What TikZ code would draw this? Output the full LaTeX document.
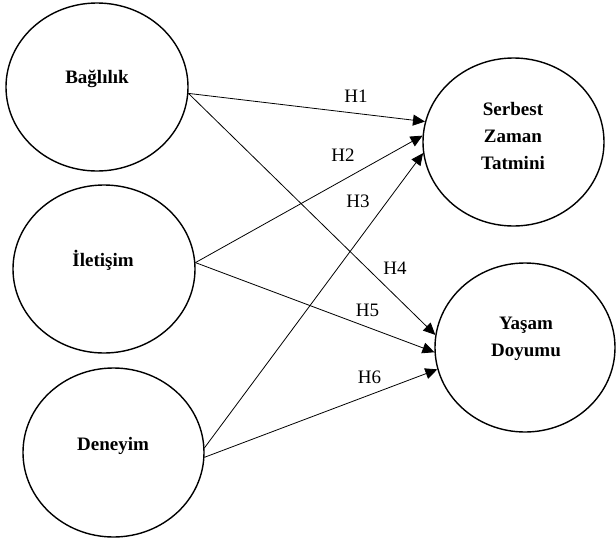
\documentclass[tikz,border=0pt]{standalone}
\usepackage{fontspec}
\setmainfont{Liberation Serif}
\usetikzlibrary{shapes.geometric,arrows.meta}
\begin{document}
\begin{tikzpicture}[x=1pt,y=-1pt,
  construct/.style={ellipse,draw=black,line width=1.4pt,inner sep=0pt},
  cname/.style={font=\fontsize{19}{27}\selectfont\bfseries,align=center,inner sep=0pt},
  hyp/.style={font=\fontsize{19}{22}\selectfont,inner sep=0pt},
  path/.style={draw=black,line width=0.8pt,-{Triangle[length=12pt,width=11pt]}}]
\useasboundingbox[fill=white] (0,0) rectangle (616,541);
% constructs
\node[construct,minimum width=182pt,minimum height=168pt] (b) at (97,87) {};
\node[construct,minimum width=182pt,minimum height=168pt] (i) at (104,269) {};
\node[construct,minimum width=181pt,minimum height=169pt] (d) at (113.5,452.5) {};
\node[construct,minimum width=181pt,minimum height=168pt] (s) at (513.5,142) {};
\node[construct,minimum width=180pt,minimum height=169pt] (y) at (525,347.5) {};
% names
\node[cname,anchor=base] (bt) at (97,83) {Bağlılık};
\node[cname,anchor=base] (it) at (103,266) {İletişim};
\node[cname,anchor=base] (dt) at (113,450) {Deneyim};
\node[cname,anchor=center] (st) at (513,136) {Serbest\\Zaman\\Tatmini};
\node[cname,anchor=center] (yt) at (526,339) {Yaşam\\Doyumu};
% paths
\draw[path] (b.-4) -- (s.167.7);
\draw[path] (b.-4) -- (y.172.7);
\draw[path] (i.4) -- (s.176.9);
\draw[path] (i.4) -- (y.183.5);
\draw[path] (d.3) -- (s.-173.8);
\draw[path] (d.-3.5) -- (y.194.6);
% labels
\node[hyp] (h1) at (356,96.5) {H1};
\node[hyp] (h2) at (343,155) {H2};
\node[hyp] (h3) at (358,201.5) {H3};
\node[hyp] (h4) at (395,268.5) {H4};
\node[hyp] (h5) at (367.5,310) {H5};
\node[hyp] (h6) at (369.5,377) {H6};
\end{tikzpicture}
\end{document}
